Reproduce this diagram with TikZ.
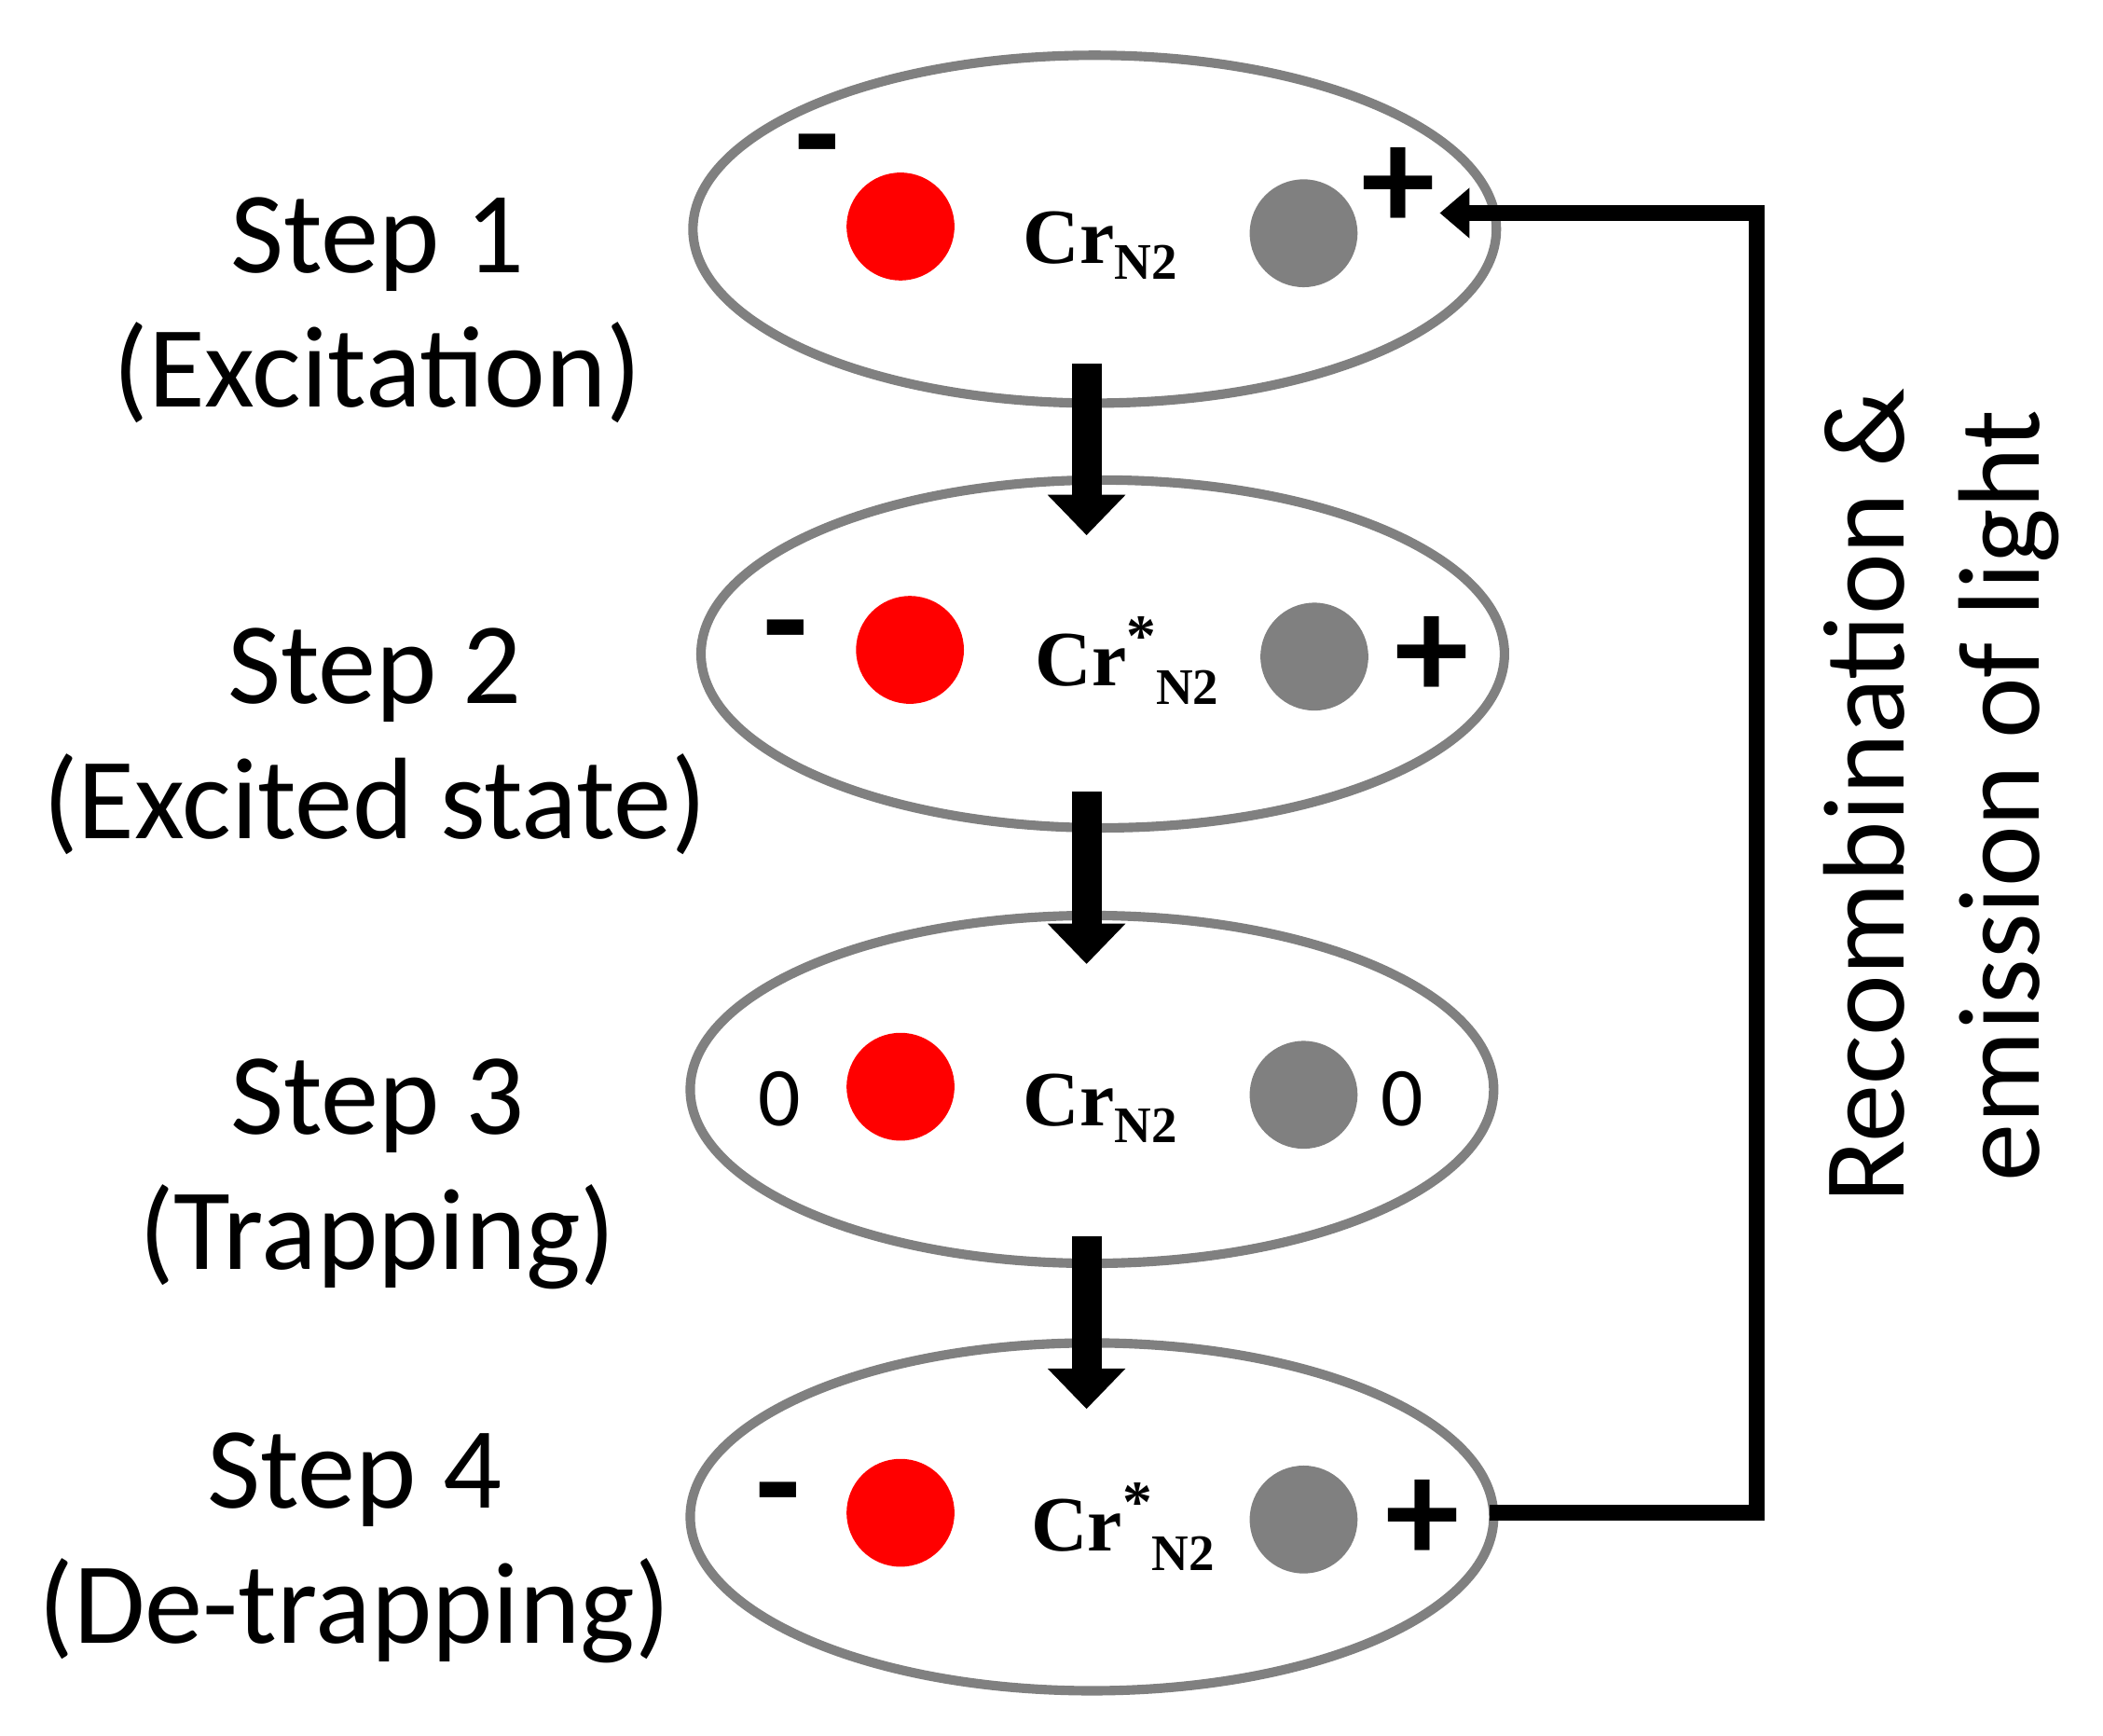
\documentclass[tikz,border=0pt]{standalone}
\usepackage{fontspec}
\setmainfont{Carlito}
\newfontfamily\crf{Liberation Serif}
\usetikzlibrary{arrows.meta,shapes.geometric}
\begin{document}
\begin{tikzpicture}[x=1pt,y=-1pt,
  ell/.style={draw=black!50,line width=7pt,ellipse,minimum width=596pt,minimum height=258pt},
  rdot/.style={circle,fill=red,minimum size=80pt,inner sep=0},
  gdot/.style={circle,fill=black!50,minimum size=80pt,inner sep=0},
  lab/.style={font=\fontsize{86}{100}\selectfont,align=center},
  sgn/.style={font=\fontsize{110}{110}\selectfont\bfseries},
  zer/.style={font=\fontsize{62}{70}\selectfont},
  cr/.style={font=\crf\bfseries\fontsize{58}{60}\selectfont},
  down/.style={line width=22pt,-{Triangle[width=56pt,length=30pt]}},
  conn/.style={line width=12pt}]
\useasboundingbox (0,0) rectangle (1560,1287);
\node[ell] (e1) at (812,170) {};
\node[ell] (e2) at (818,485) {};
\node[ell] (e3) at (810,808) {};
\node[ell] (e4) at (810,1125) {};
\node[rdot] (r1) at (668,168) {}; \node[gdot] (g1) at (967,173) {};
\node[rdot] (r2) at (675,482) {}; \node[gdot] (g2) at (975,487) {};
\node[rdot] (r3) at (668,806) {}; \node[gdot] (g3) at (967,812) {};
\node[rdot] (r4) at (668,1122) {}; \node[gdot] (g4) at (967,1127) {};
\node[cr] (c1) at (816,182) {Cr\raisebox{-12pt}{\fontsize{38}{40}\selectfont N2}};
\node[cr] (c2) at (836,490) {Cr\raisebox{22pt}{\fontsize{44}{40}\selectfont *}\raisebox{-14pt}{\fontsize{38}{40}\selectfont N2}};
\node[cr] (c3) at (816,822) {Cr\raisebox{-12pt}{\fontsize{38}{40}\selectfont N2}};
\node[cr] (c4) at (833,1132) {Cr\raisebox{22pt}{\fontsize{44}{40}\selectfont *}\raisebox{-14pt}{\fontsize{38}{40}\selectfont N2}};
\node[sgn] (m1) at (606,118) {-}; \node[sgn] (p1) at (1037,140) {+};
\node[sgn] (m2) at (583,478) {-}; \node[sgn] (p2) at (1062,488) {+};
\node[zer] (z1) at (578,815) {0}; \node[zer] (z2) at (1040,815) {0};
\node[sgn] (m4) at (577,1118) {-}; \node[sgn] (p4) at (1055,1128) {+};
\node[lab] (s1) at (280,230) {Step 1\\(Excitation)};
\node[lab] (s2) at (278,550) {Step 2\\(Excited state)};
\node[lab] (s3) at (280,871) {Step 3\\(Trapping)};
\node[lab] (s4) at (263,1148) {Step 4\\(De-trapping)};
\coordinate (a1) at (806,270); \coordinate (b1) at (806,397);
\coordinate (a2) at (806,587); \coordinate (b2) at (806,715);
\coordinate (a3) at (806,917); \coordinate (b3) at (806,1045);
\draw[down] (a1) -- (b1); \draw[down] (a2) -- (b2); \draw[down] (a3) -- (b3);
\coordinate (st) at (1105,1122);
\coordinate (k1) at (1303,1122); \coordinate (k2) at (1303,158); \coordinate (t) at (1068,158);
\draw[conn,-{Triangle[width=36pt,length=22pt]}] (st) -- (k1) -- (k2) -- (t);
\node[lab,rotate=90] (rt) at (1440,590) {Recombination \&\\emission of light};
\end{tikzpicture}
\end{document}
